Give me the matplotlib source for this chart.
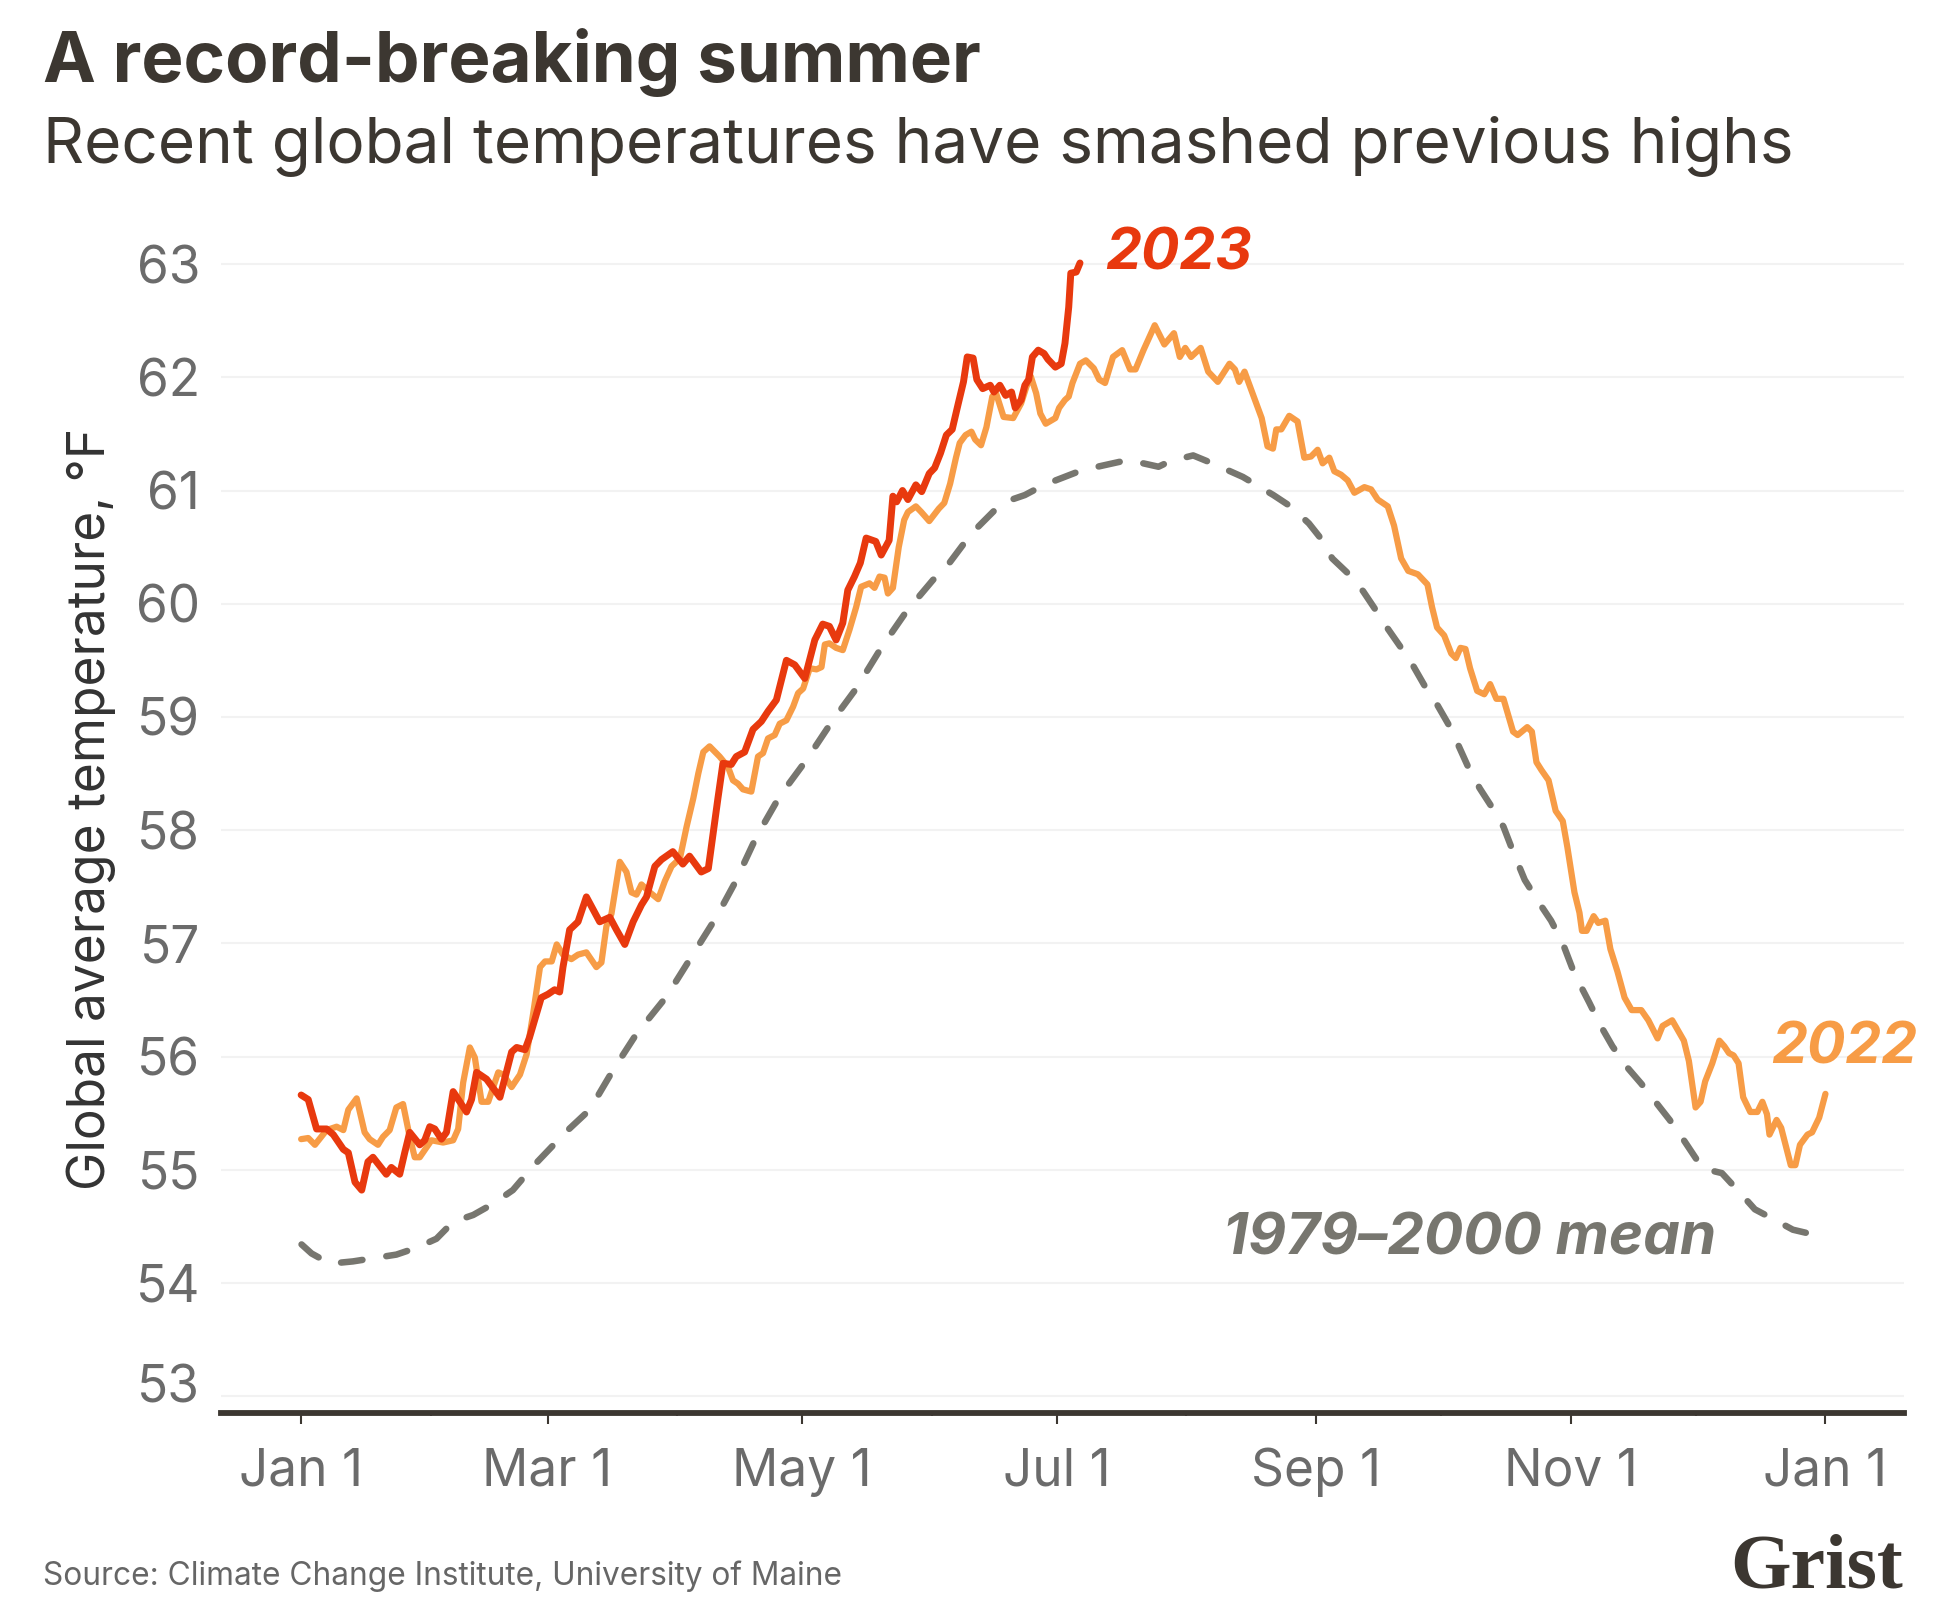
import numpy as np
import pandas as pd
import matplotlib
matplotlib.use('Agg')
import matplotlib.pyplot as plt
from matplotlib.transforms import ScaledTranslation

# Datos: dia del año (0 = 1 de enero) y temperatura en °F
dias_2023 = [0, 1.7, 3.7, 6.1, 7.7, 10.1, 11.3, 12.9, 14.5, 16.0, 17.2, 20.4, 21.6, 23.6, 24.8,
             26.0, 28.4, 29.6, 30.8, 32.0, 33.6, 34.8, 36.4, 39.6, 40.8, 42.0, 44.4, 47.6, 50.4,
             51.6, 53.6, 54.7, 57.5, 59.1, 60.7, 61.9, 62.7, 64.3, 66.3, 68.3, 71.5, 73.9, 75.5,
             77.5, 79.5, 81.5, 82.7, 84.7, 86.3, 89.0, 91.4, 93.0, 95.8, 97.5, 99.8, 101.0, 103.0,
             104.2, 106.2, 108.2, 110.2, 111.8, 113.8, 116.2, 118.2, 120.6, 123.0, 124.9, 126.5,
             128.1, 129.7, 130.9, 132.5, 133.9, 135.3, 137.6, 138.9, 140.8, 141.7, 142.6, 144.0,
             145.3, 147.2, 148.6, 150.4, 151.7, 153.1, 154.5, 155.9, 157.3, 158.6, 159.5, 160.9,
             161.8, 163.2, 165.0, 165.9, 167.3, 168.7, 170.1, 171.0, 172.4, 173.3, 174.2, 175.1,
             176.5, 177.9, 178.8, 180.6, 182.0, 182.9, 183.8, 184.3, 185.6, 186.5]
temp_2023 = [55.66, 55.62, 55.36, 55.36, 55.31, 55.18, 55.15, 54.89, 54.82, 55.07, 55.11, 54.96,
             55.02, 54.96, 55.15, 55.33, 55.22, 55.26, 55.38, 55.36, 55.27, 55.33, 55.69, 55.51,
             55.62, 55.86, 55.80, 55.64, 56.04, 56.08, 56.06, 56.17, 56.52, 56.55, 56.59, 56.57,
             56.79, 57.12, 57.19, 57.41, 57.19, 57.23, 57.12, 56.99, 57.19, 57.34, 57.41, 57.68,
             57.74, 57.81, 57.70, 57.77, 57.63, 57.66, 58.28, 58.59, 58.58, 58.65, 58.69, 58.89,
             58.96, 59.05, 59.15, 59.50, 59.46, 59.34, 59.68, 59.82, 59.80, 59.68, 59.83, 60.12,
             60.24, 60.36, 60.58, 60.55, 60.43, 60.56, 60.95, 60.90, 61.00, 60.92, 61.05, 60.99,
             61.15, 61.20, 61.33, 61.49, 61.54, 61.76, 61.96, 62.18, 62.17, 61.98, 61.90, 61.93,
             61.87, 61.93, 61.84, 61.87, 61.73, 61.80, 61.93, 61.98, 62.18, 62.24, 62.21, 62.16,
             62.09, 62.12, 62.30, 62.62, 62.92, 62.93, 63.01]

dias_2022 = [0, 1.7, 3.3, 6.1, 8.5, 10.1, 11.3, 13.3, 15.2, 16.4, 18.4, 19.6, 21.2, 22.8, 24.4,
             26.0, 27.2, 28.4, 31.2, 34.0, 36.4, 37.6, 38.8, 40.4, 41.6, 43.2, 44.8, 47.2, 48.4,
             50.4, 52.4, 54.0, 55.6, 57.2, 58.4, 60.0, 61.2, 62.7, 64.7, 66.3, 68.3, 70.7, 71.9,
             73.1, 74.3, 76.3, 77.9, 79.1, 80.3, 81.5, 83.5, 85.5, 87.1, 88.7, 90.7, 92.3, 93.9,
             95.1, 96.3, 97.8, 100.2, 102.2, 103.4, 104.6, 105.8, 107.8, 109.4, 110.6, 111.8,
             113.4, 114.6, 116.2, 117.8, 119.0, 120.2, 121.8, 123.4, 124.6, 125.4, 126.5, 128.1,
             129.7, 131.3, 132.9, 134.1, 136.1, 137.3, 138.5, 139.7, 140.5, 141.7, 143.1, 144.4,
             145.3, 147.2, 148.5, 150.4, 152.7, 154.0, 155.4, 156.8, 157.7, 159.1, 160.5, 161.4,
             162.8, 164.1, 165.5, 166.4, 168.2, 170.5, 172.4, 173.7, 174.7, 176.0, 177.0, 178.3,
             180.6, 181.5, 182.9, 183.8, 184.7, 186.5, 187.9, 189.8, 191.1, 192.5, 194.4, 196.6,
             198.5, 199.8, 201.7, 204.4, 206.7, 209.0, 210.4, 211.7, 213.1, 215.4, 217.2, 219.5,
             220.9, 222.3, 223.6, 224.6, 225.9, 228.2, 230.0, 231.4, 232.7, 233.5, 234.7, 236.6,
             238.6, 240.2, 241.8, 243.4, 244.6, 246.2, 247.4, 249.0, 250.6, 252.2, 254.6, 256.2,
             257.8, 260.2, 261.7, 263.4, 265.1, 267.4, 269.7, 270.8, 272.0, 273.7, 275.4, 276.5,
             277.6, 278.8, 279.9, 281.6, 283.3, 284.7, 286.2, 287.9, 290.2, 291.3, 293.6, 294.7,
             295.8, 297.0, 298.7, 300.4, 302.1, 303.2, 304.9, 306.1, 306.7, 307.8, 309.5, 310.6,
             312.3, 313.5, 315.2, 316.9, 318.6, 320.9, 322.6, 324.8, 326.0, 328.3, 329.4, 331.1,
             332.3, 333.9, 335.1, 336.2, 337.9, 339.6, 340.8, 341.9, 343.0, 344.2, 345.3, 347.0,
             348.7, 349.9, 351.0, 351.6, 353.3, 354.4, 356.7, 357.8, 358.9, 360.7, 361.8, 363.5,
             365.0]
temp_2022 = [55.27, 55.28, 55.22, 55.35, 55.38, 55.35, 55.53, 55.63, 55.33, 55.27, 55.22, 55.29,
             55.35, 55.55, 55.58, 55.29, 55.11, 55.11, 55.26, 55.24, 55.26, 55.36, 55.77, 56.08,
             55.99, 55.60, 55.60, 55.86, 55.84, 55.73, 55.84, 56.02, 56.39, 56.79, 56.84, 56.84,
             56.99, 56.90, 56.86, 56.90, 56.92, 56.79, 56.83, 57.15, 57.26, 57.72, 57.63, 57.45,
             57.43, 57.52, 57.45, 57.39, 57.55, 57.68, 57.75, 58.03, 58.28, 58.50, 58.69, 58.74,
             58.65, 58.56, 58.44, 58.41, 58.36, 58.34, 58.65, 58.68, 58.81, 58.84, 58.94, 58.97,
             59.09, 59.21, 59.25, 59.43, 59.42, 59.44, 59.64, 59.65, 59.61, 59.59, 59.77, 59.97,
             60.15, 60.18, 60.14, 60.24, 60.23, 60.09, 60.14, 60.50, 60.74, 60.81, 60.86, 60.81,
             60.73, 60.84, 60.89, 61.06, 61.29, 61.42, 61.49, 61.52, 61.45, 61.40, 61.56, 61.83,
             61.86, 61.65, 61.64, 61.77, 61.92, 62.01, 61.86, 61.68, 61.59, 61.64, 61.73, 61.80,
             61.83, 61.95, 62.12, 62.15, 62.08, 61.98, 61.95, 62.18, 62.24, 62.07, 62.07, 62.24,
             62.46, 62.29, 62.39, 62.18, 62.26, 62.18, 62.26, 62.05, 61.96, 62.04, 62.12, 62.07,
             61.96, 62.05, 61.82, 61.64, 61.39, 61.37, 61.54, 61.54, 61.66, 61.61, 61.29, 61.30,
             61.36, 61.24, 61.29, 61.17, 61.14, 61.09, 60.98, 61.03, 61.01, 60.92, 60.86, 60.69,
             60.40, 60.29, 60.26, 60.17, 59.97, 59.79, 59.72, 59.56, 59.52, 59.61, 59.60, 59.43,
             59.23, 59.20, 59.29, 59.16, 59.16, 58.87, 58.84, 58.91, 58.87, 58.60, 58.53, 58.44,
             58.17, 58.08, 57.85, 57.45, 57.27, 57.11, 57.11, 57.24, 57.18, 57.20, 56.95, 56.75,
             56.52, 56.41, 56.41, 56.32, 56.16, 56.27, 56.32, 56.25, 56.14, 55.96, 55.55, 55.60,
             55.78, 55.94, 56.14, 56.09, 56.03, 56.01, 55.94, 55.64, 55.51, 55.51, 55.60, 55.49,
             55.31, 55.44, 55.37, 55.04, 55.04, 55.22, 55.31, 55.33, 55.46, 55.67]

dias_media = [0.1, 2.5, 6.9, 12.4, 17.6, 22.8, 27.6, 32.4, 36.4, 41.2, 46.0, 50.7, 55.8, 63.3,
              69.1, 74.7, 80.3, 87.5, 93.1, 99.4, 103.8, 109.0, 114.6, 121.0, 127.3, 132.9,
              138.9, 144.9, 151.3, 154.0, 160.5, 167.8, 173.3, 177.9, 187.0, 198.0, 205.3,
              208.1, 213.6, 218.2, 225.5, 232.8, 236.9, 241.3, 244.1, 246.9, 250.9, 254.3,
              257.2, 260.0, 263.4, 266.3, 269.1, 272.0, 274.8, 277.1, 279.3, 282.2, 285.0,
              287.9, 290.2, 293.0, 296.4, 299.3, 302.1, 304.9, 308.4, 311.2, 314.0, 317.4,
              320.9, 324.3, 327.7, 331.1, 335.6, 340.2, 344.7, 348.1, 352.7, 357.2, 361.8, 365.0]
temp_media = [54.34, 54.26, 54.17, 54.19, 54.22, 54.25, 54.31, 54.39, 54.54, 54.60, 54.70, 54.82,
              55.04, 55.33, 55.53, 55.88, 56.20, 56.53, 56.86, 57.23, 57.53, 57.94, 58.30, 58.62,
              58.97, 59.25, 59.61, 59.93, 60.21, 60.30, 60.62, 60.89, 60.96, 61.05, 61.18, 61.27,
              61.21, 61.26, 61.31, 61.24, 61.12, 60.96, 60.86, 60.71, 60.58, 60.40, 60.26, 60.11,
              59.95, 59.79, 59.61, 59.45, 59.27, 59.11, 58.93, 58.75, 58.57, 58.37, 58.21, 58.03,
              57.81, 57.56, 57.36, 57.20, 57.00, 56.73, 56.48, 56.27, 56.09, 55.91, 55.76, 55.60,
              55.44, 55.26, 55.01, 54.97, 54.79, 54.65, 54.56, 54.47, 54.43, 54.38]

ticks_y = list(range(53, 64))
meses_mayores = ['2022-01-01', '2022-03-01', '2022-05-01', '2022-07-01', '2022-09-01', '2022-11-01', '2023-01-01']
meses_menores = ['2022-02-01', '2022-04-01', '2022-06-01', '2022-08-01', '2022-10-01', '2022-12-01']
etiquetas_x = ['Jan 1', 'Mar 1', 'May 1', 'Jul 1', 'Sep 1', 'Nov 1', 'Jan 1']

# Colores
rojo = '#e8390e'
naranja = '#f79c46'
gris = '#77766f'
oscuro = '#3c3731'

inicio = pd.Timestamp('2022-01-01')


def a_fechas(dias):
    return inicio + pd.to_timedelta(np.array(dias), unit='D')


plt.rcParams['font.family'] = ['Inter', 'DejaVu Sans']

fig = plt.figure(figsize=(19.45, 16.22), dpi=100)
ax = fig.add_axes([0.1136, 0.1288, 0.8653, 0.7293])

ax.plot(a_fechas(dias_media), temp_media, color=gris, lw=4.7, dashes=(3.3, 3.7),
        dash_capstyle='round', solid_joinstyle='round', zorder=2)
ax.plot(a_fechas(dias_2022), temp_2022, color=naranja, lw=4.5, solid_joinstyle='round',
        solid_capstyle='round', zorder=3)
ax.plot(a_fechas(dias_2023), temp_2023, color=rojo, lw=5.0, solid_joinstyle='round',
        solid_capstyle='round', zorder=4)

# Ejes
ax.set_ylim(52.85, 63.3)
ax.set_xlim(inicio + pd.Timedelta(days=-19.2), inicio + pd.Timedelta(days=383.8))
ax.set_yticks(ticks_y)
ax.set_yticklabels([str(t) for t in ticks_y])
ax.set_xticks(pd.to_datetime(meses_mayores))
ax.set_xticklabels(etiquetas_x)
ax.set_xticks(pd.to_datetime(meses_menores), minor=True)

for lado in ['top', 'right', 'left']:
    ax.spines[lado].set_visible(False)
ax.spines['bottom'].set_linewidth(4.2)
ax.spines['bottom'].set_color(oscuro)

ax.tick_params(axis='y', length=0, labelsize=37, labelcolor='#6b6b6b', pad=15)
ax.tick_params(axis='x', which='major', length=8, width=1.5, color=oscuro,
               labelsize=37, labelcolor='#6b6b6b', pad=17)
ax.tick_params(axis='x', which='minor', length=2.5, width=1.5, color=oscuro)

# la etiqueta 53 va un poco por encima de su linea
etiqueta_53 = ax.yaxis.get_major_ticks()[0].label1
etiqueta_53.set_transform(etiqueta_53.get_transform() + ScaledTranslation(0, 9 / 72, fig.dpi_scale_trans))

ax.yaxis.grid(True, color='#f2f2f2', lw=1.5)
ax.set_axisbelow(True)

# Etiquetas de las series
ax.text(inicio + pd.Timedelta(days=192.5), 62.95, '2023', color=rojo, fontsize=41,
        fontweight='bold', fontstyle='italic', va='baseline', ha='left')
ax.text(inicio + pd.Timedelta(days=352.1), 55.94, '2022', color=naranja, fontsize=41,
        fontweight='bold', fontstyle='italic', va='baseline', ha='left', clip_on=False)
ax.text(inicio + pd.Timedelta(days=220.8), 54.25, '1979–2000 mean', color=gris, fontsize=42,
        fontweight='bold', fontstyle='italic', va='baseline', ha='left')

# Textos de la figura
fig.text(43 / 1945, 1 - 82 / 1622, 'A record-breaking summer', fontsize=51,
         fontweight='bold', color=oscuro, va='baseline', ha='left')
fig.text(43 / 1945, 1 - 162 / 1622, 'Recent global temperatures have smashed previous highs',
         fontsize=46, color=oscuro, va='baseline', ha='left')
fig.text(91 / 1945, 1 - 809 / 1622, 'Global average temperature, °F', fontsize=37,
         color='#333333', rotation=90, va='center', ha='center')
fig.text(43 / 1945, 1 - 1585 / 1622, 'Source: Climate Change Institute, University of Maine',
         fontsize=22.8, color='#666666', va='baseline', ha='left')
fig.text(1903 / 1945, 1 - 1588 / 1622, 'Grist', fontsize=56, fontweight='bold',
         family=['Liberation Serif', 'DejaVu Serif'], color=oscuro, va='baseline', ha='right')

fig.savefig('out.png', dpi=100)
plt.close()
